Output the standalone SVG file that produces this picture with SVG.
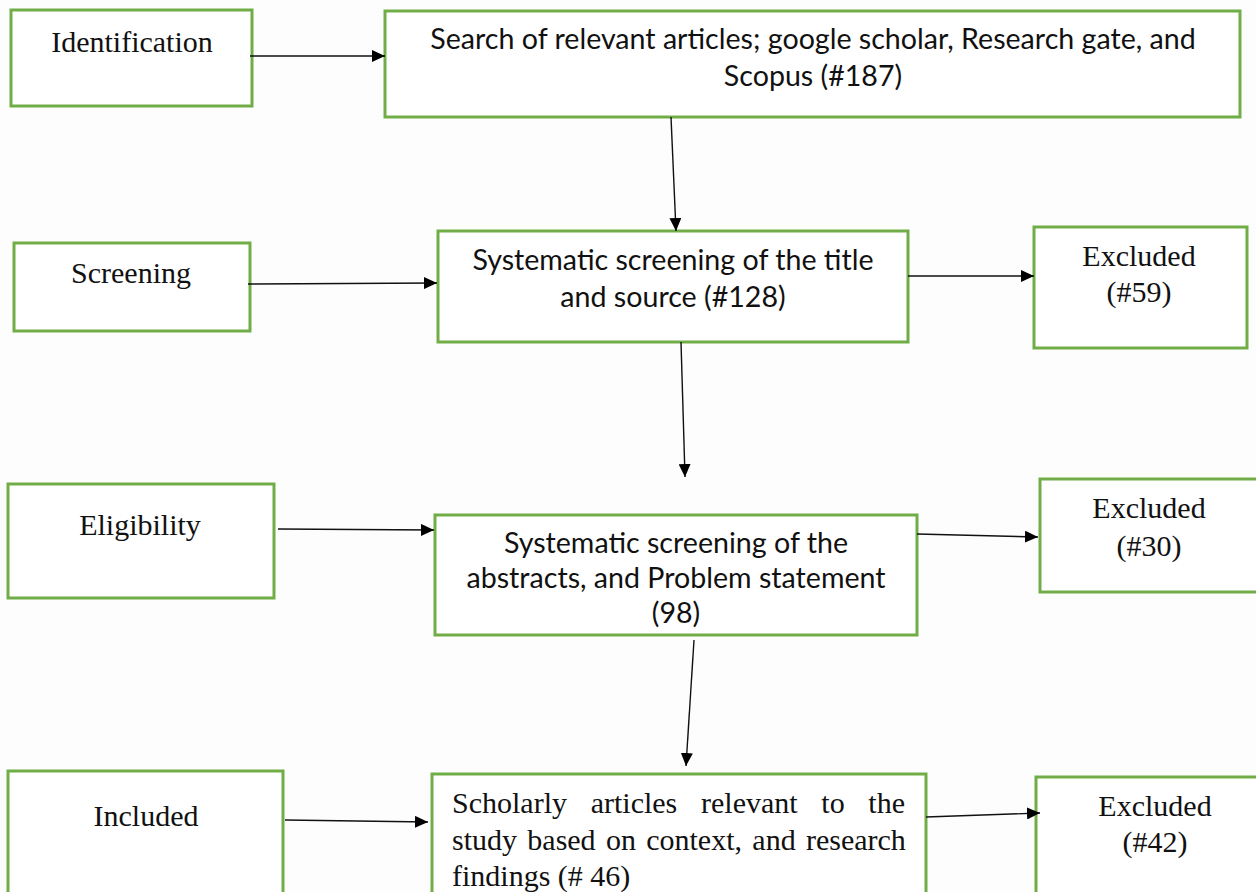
<svg xmlns="http://www.w3.org/2000/svg" width="1256" height="892" viewBox="0 0 1256 892">
<style>
.box{fill:#ffffff;stroke:#70ad47;stroke-width:3}
.serif{font-family:"Liberation Serif","Times New Roman",serif;font-size:30px;fill:#111}
.sans{font-family:Lato,"Open Sans","DejaVu Sans",sans-serif;font-size:28.6px;fill:#111}
.conn line{stroke:#111;stroke-width:1.4;marker-end:url(#ah)}
</style>
<defs>
<marker id="ah" markerUnits="userSpaceOnUse" markerWidth="14" markerHeight="12" refX="13" refY="6" orient="auto">
<path d="M0,0 L13,6 L0,12 z" fill="#000"/>
</marker>
</defs>
<rect width="1256" height="892" fill="#fdfdfd"/>
<g id="identification">
<rect class="box" x="11" y="10" width="241" height="96"/>
<text class="serif" x="132" y="52" text-anchor="middle">Identification</text>
</g>
<g id="search">
<rect class="box" x="385" y="11" width="855" height="106"/>
<text class="sans" x="813" y="49" text-anchor="middle">Search of relevant articles; google scholar, Research gate, and</text>
<text class="sans" x="813" y="86" text-anchor="middle">Scopus (#187)</text>
</g>
<g id="screening">
<rect class="box" x="14" y="243" width="236" height="88"/>
<text class="serif" x="131" y="283" text-anchor="middle">Screening</text>
</g>
<g id="screen-title">
<rect class="box" x="438" y="231" width="470" height="111"/>
<text class="sans" x="673" y="270" text-anchor="middle">Systematic screening of the title</text>
<text class="sans" x="673" y="307" text-anchor="middle">and source (#128)</text>
</g>
<g id="excluded59">
<rect class="box" x="1034" y="227" width="213" height="121"/>
<text class="serif" x="1139" y="266" text-anchor="middle">Excluded</text>
<text class="serif" x="1139" y="302" text-anchor="middle">(#59)</text>
</g>
<g id="eligibility">
<rect class="box" x="8" y="484" width="266" height="114"/>
<text class="serif" x="140" y="535" text-anchor="middle">Eligibility</text>
</g>
<g id="screen-abstracts">
<rect class="box" x="435" y="515" width="482" height="120"/>
<text class="sans" x="676" y="553" text-anchor="middle">Systematic screening of the</text>
<text class="sans" x="676" y="588" text-anchor="middle">abstracts, and Problem statement</text>
<text class="sans" x="676" y="623" text-anchor="middle">(98)</text>
</g>
<g id="excluded30">
<rect class="box" x="1040" y="479" width="220" height="113"/>
<text class="serif" x="1149" y="518" text-anchor="middle">Excluded</text>
<text class="serif" x="1149" y="556" text-anchor="middle">(#30)</text>
</g>
<g id="included">
<rect class="box" x="8" y="771" width="275" height="130"/>
<text class="serif" x="146" y="826" text-anchor="middle">Included</text>
</g>
<g id="scholarly">
<rect class="box" x="432" y="774" width="494" height="130"/>
<text class="serif" x="452" y="813" style="word-spacing:16.2px">Scholarly articles relevant to the</text>
<text class="serif" x="452" y="850" style="word-spacing:2.8px">study based on context, and research</text>
<text class="serif" x="452" y="886">findings (# 46)</text>
</g>
<g id="excluded42">
<rect class="box" x="1036" y="777" width="230" height="130"/>
<text class="serif" x="1155" y="816" text-anchor="middle">Excluded</text>
<text class="serif" x="1155" y="852" text-anchor="middle">(#42)</text>
</g>
<g id="connectors" class="conn">
<line x1="250" y1="56" x2="385" y2="56"/>
<line x1="671" y1="117" x2="676" y2="231"/>
<line x1="248" y1="284" x2="437" y2="283"/>
<line x1="908" y1="276" x2="1034" y2="276"/>
<line x1="681" y1="342" x2="685" y2="477"/>
<line x1="278" y1="529" x2="434" y2="530"/>
<line x1="917" y1="534" x2="1038" y2="537"/>
<line x1="694" y1="640" x2="686" y2="766"/>
<line x1="285" y1="820" x2="428" y2="822"/>
<line x1="926" y1="817" x2="1040" y2="813"/>
</g>
</svg>
